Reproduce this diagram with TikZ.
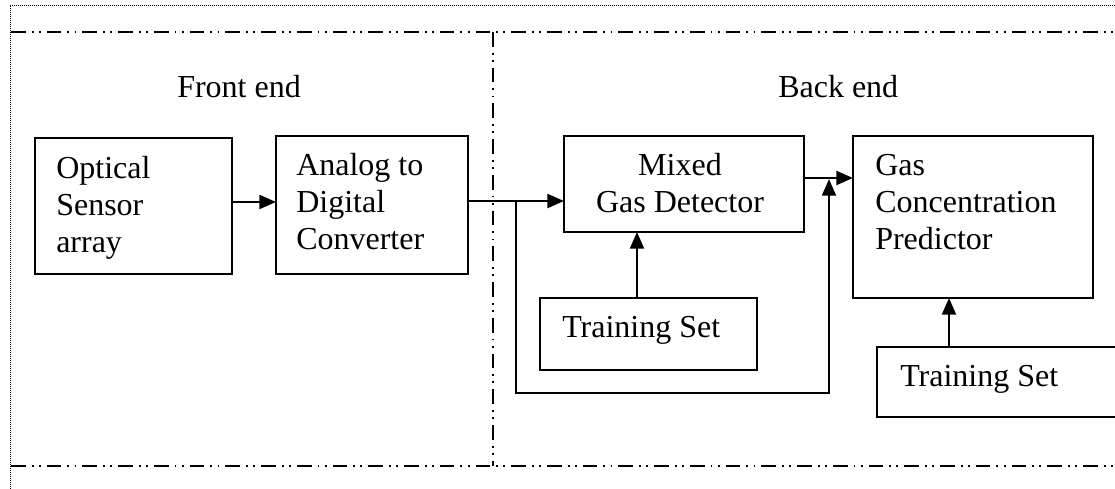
\documentclass[tikz,border=0pt]{standalone}
\usepackage{fontspec}
\setmainfont{Liberation Serif}
\usetikzlibrary{arrows.meta}
\begin{document}
\begin{tikzpicture}[x=0.75pt,y=-0.75pt,
  box/.style={draw, line width=1.7pt, inner sep=0pt, outer sep=0pt, anchor=north west},
  lbl/.style={inner sep=0pt, font=\fontsize{24}{27.75}\selectfont, align=left, anchor=north west},
  title/.style={inner sep=0pt, font=\fontsize{24}{27.75}\selectfont, anchor=base west},
  wire/.style={line width=1.6pt},
  arr/.style={wire, -{Triangle[length=12.5pt,width=10.5pt]}},
  sep/.style={line width=1.5pt, dash pattern=on 11pt off 4.5pt on 1.4pt off 4pt on 1.4pt off 4.5pt},
  frame/.style={line width=0.6pt, dash pattern=on 0.75pt off 0.75pt}]
\useasboundingbox (0,0) rectangle (1115,489);
\clip (0,0) rectangle (1115,489);

% outer frame
\draw[frame] (10,489) -- (10,5) -- (1115,5);

% front end / back end separators
\draw[sep] (11,32) -- (1115,32);
\draw[sep] (11,466) -- (1115,466);
\draw[sep] (493,32) -- (493,466);

% section titles
\node[title] (fe) at (177,97) {Front end};
\node[title] (be) at (778,97) {Back end};

% blocks
\node[box, minimum width=147.75pt, minimum height=102pt]  (osa) at (35,138) {};
\node[box, minimum width=144pt,    minimum height=103.5pt](adc) at (276,136) {};
\node[box, minimum width=180pt,    minimum height=72pt]   (mgd) at (564,136) {};
\node[box, minimum width=180pt,    minimum height=121.5pt](gcp) at (853,136) {};
\node[box, minimum width=162.75pt, minimum height=54pt]   (ts1) at (540,298) {};
\node[box, minimum width=187.5pt,  minimum height=52.5pt] (ts2) at (877,347) {};

% block texts
\node[lbl] (osa-t) at (56,152.1)  {\strut Optical\\Sensor\\array};
\node[lbl] (adc-t) at (296,149.1) {\strut Analog to\\Digital\\Converter};
\node[lbl, align=center, anchor=north] (mgd-t) at (680,149.1) {\strut Mixed\\Gas Detector};
\node[lbl] (gcp-t) at (875,149.1) {\strut Gas\\Concentration\\Predictor};
\node[lbl] (ts1-t) at (562,311.1) {\strut Training Set};
\node[lbl] (ts2-t) at (900,360.1) {\strut Training Set};

% routing points
\coordinate (r1) at (0,202);
\coordinate (r2) at (0,201);
\coordinate (r3) at (0,178);
\coordinate (split) at (516,201);
\coordinate (loopL) at (516,393);
\coordinate (loopR) at (829,393);
\coordinate (c1) at (637,0);
\coordinate (c2) at (949,0);

% signal flow
\draw[arr] (osa.east |- r1) -- (adc.west |- r1);
\draw[arr] (adc.east |- r2) -- (mgd.west |- r2);
\draw[arr] (mgd.east |- r3) -- (gcp.west |- r3);
\draw[arr, shorten >=0.8pt] (split) -- (loopL) -- (loopR) -- (loopR |- r3);
\draw[arr] (ts1.north -| c1) -- (mgd.south -| c1);
\draw[arr] (ts2.north -| c2) -- (gcp.south -| c2);
\end{tikzpicture}
\end{document}
